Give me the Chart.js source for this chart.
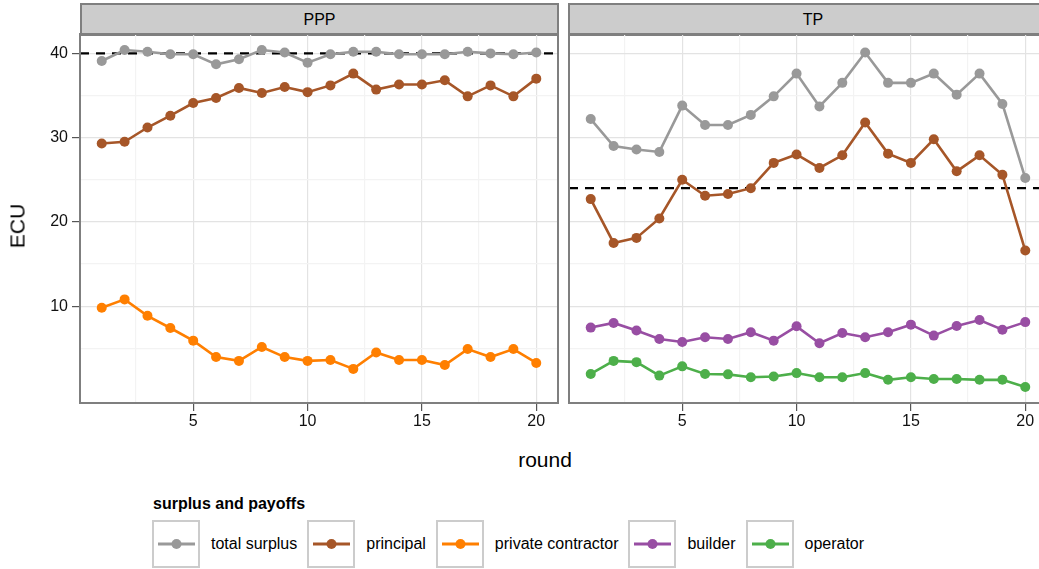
<!DOCTYPE html>
<html>
<head>
<meta charset="utf-8">
<script src="https://cdn.jsdelivr.net/npm/chart.js@4.4.1/dist/chart.umd.min.js"></script>
<style>
  body { margin: 0; width: 1039px; height: 569px; overflow: hidden; background: #fff;
         position: relative; font-family: "Liberation Sans", Arial, sans-serif; color: #000; }
  canvas { position: absolute; top: 0; }
  .strip { position: absolute; top: 3px; height: 33px; box-sizing: border-box;
           background: #cccccc; border: 2px solid #7f7f7f; font-size: 16px;
           display: flex; align-items: center; justify-content: center; }
  #ylab { position: absolute; left: 17px; top: 226px; font-size: 21px; line-height: 21px;
          transform: translate(-50%, -50%) rotate(-90deg); white-space: nowrap; }
  #xlab { position: absolute; left: 545px; top: 449px; font-size: 21px; line-height: 21px;
          transform: translateX(-50%); }
  #legtitle { position: absolute; left: 153px; top: 495px; font-size: 16px; font-weight: bold;
              line-height: 18px; }
  #legrow { position: absolute; left: 152px; top: 520px; display: flex; align-items: center;
            font-size: 16px; }
  .key { width: 48px; height: 48px; box-sizing: border-box; border: 2px solid #cccccc;
         background: #fff; }
  .key svg { display: block; }
  .lab { margin-left: 11px; margin-right: 10px; white-space: nowrap; }
</style>
</head>
<body>
<div class="strip" style="left:80px;width:479px">PPP</div>
<div class="strip" style="left:568px;width:490px">TP</div>
<canvas id="ppp" width="570" height="440" style="left:0;width:570px;height:440px"></canvas>
<canvas id="tp" width="500" height="440" style="left:560px;width:500px;height:440px"></canvas>
<div id="ylab">ECU</div>
<div id="xlab">round</div>
<div id="legtitle">surplus and payoffs</div>
<div id="legrow"></div>

<script>
// rounds 1..20
const rounds = [1, 2, 3, 4, 5, 6, 7, 8, 9, 10, 11, 12, 13, 14, 15, 16, 17, 18, 19, 20];

const seriesNames = ['total surplus', 'principal', 'private contractor', 'builder', 'operator'];
const seriesColors = ['#999999', '#A65628', '#FF7F00', '#984EA3', '#4DAF4A'];

// PPP panel
const pppTotal = [39.1, 40.4, 40.2, 39.9, 39.9, 38.7, 39.3, 40.4, 40.1, 38.9,
                  39.9, 40.2, 40.2, 39.9, 39.9, 39.9, 40.2, 40.0, 39.9, 40.1];
const pppPrincipal = [29.3, 29.5, 31.2, 32.6, 34.1, 34.7, 35.9, 35.3, 36.0, 35.4,
                      36.2, 37.6, 35.7, 36.3, 36.3, 36.8, 34.9, 36.2, 34.9, 37.0];
const pppContractor = [9.8, 10.8, 8.85, 7.4, 5.9, 3.95, 3.5, 5.15, 3.95, 3.5,
                       3.6, 2.55, 4.5, 3.6, 3.6, 3.0, 4.9, 3.95, 4.9, 3.25];

// TP panel
const tpTotal = [32.2, 29.0, 28.6, 28.3, 33.8, 31.5, 31.5, 32.7, 34.9, 37.6,
                 33.7, 36.5, 40.1, 36.5, 36.5, 37.6, 35.1, 37.6, 34.0, 25.2];
const tpPrincipal = [22.7, 17.5, 18.1, 20.4, 25.0, 23.1, 23.3, 24.0, 27.0, 28.0,
                     26.4, 27.9, 31.8, 28.1, 27.0, 29.8, 26.0, 27.9, 25.6, 16.6];
const tpBuilder = [7.45, 8.0, 7.1, 6.1, 5.75, 6.3, 6.1, 6.9, 5.9, 7.6,
                   5.6, 6.8, 6.3, 6.9, 7.8, 6.5, 7.65, 8.35, 7.2, 8.1];
const tpOperator = [1.95, 3.5, 3.35, 1.75, 2.85, 1.95, 1.9, 1.55, 1.65, 2.05,
                    1.55, 1.55, 2.05, 1.25, 1.55, 1.35, 1.35, 1.25, 1.25, 0.4];

// dashed reference lines
const pppRefLine = 40;
const tpRefLine = 24;

// ticks (minor + major)
const xTicks = [2.5, 5, 7.5, 10, 12.5, 15, 17.5, 20];
const yTicks = [5, 10, 15, 20, 25, 30, 35, 40];

const FONT = '"Liberation Sans", Arial, sans-serif';

// panel border + dashed hline
const panelDeco = {
  id: 'panelDeco',
  beforeDatasetsDraw(chart, args, opts) {
    const { ctx, chartArea } = chart;
    const y = chart.scales.y.getPixelForValue(opts.value);
    ctx.save();
    ctx.strokeStyle = '#000';
    ctx.lineWidth = 2.2;
    ctx.setLineDash([9, 7]);
    ctx.beginPath();
    ctx.moveTo(chartArea.left, y);
    ctx.lineTo(chartArea.right, y);
    ctx.stroke();
    ctx.restore();
  },
  afterDraw(chart) {
    const { ctx, chartArea } = chart;
    ctx.save();
    ctx.strokeStyle = '#7f7f7f';
    ctx.lineWidth = 2;
    ctx.strokeRect(chartArea.left, chartArea.top, chartArea.right - chartArea.left, chartArea.bottom - chartArea.top);
    ctx.restore();
  }
};

function makeDatasets(list) {
  return list.map(s => ({
    label: seriesNames[s.idx],
    data: rounds.map((r, i) => ({ x: r, y: s.values[i] })),
    borderColor: seriesColors[s.idx],
    backgroundColor: seriesColors[s.idx],
    pointBackgroundColor: seriesColors[s.idx],
    pointBorderWidth: 0,
    pointRadius: 5,
    borderWidth: 2.6,
    tension: 0,
    clip: false
  }));
}

const gridColor = ctx => {
  const v = ctx.tick ? ctx.tick.value : 0;
  return (v % (ctx.scale.axis === 'x' ? 5 : 10) === 0) ? '#e3e3e3' : '#f3f3f3';
};

function makeChart(id, series, refLine, showY, padding) {
  return new Chart(document.getElementById(id), {
    type: 'line',
    data: { datasets: makeDatasets(series) },
    options: {
      responsive: false,
      animation: false,
      events: [],
      layout: { padding: padding },
      plugins: {
        legend: { display: false },
        tooltip: { enabled: false },
        panelDeco: { value: refLine }
      },
      scales: {
        x: {
          type: 'linear',
          min: 0.05,
          max: 20.95,
          afterBuildTicks: scale => { scale.ticks = xTicks.map(v => ({ value: v })); },
          afterFit: scale => { scale.height = 37; },
          border: { display: false },
          grid: {
            color: gridColor,
            lineWidth: 1.2,
            tickLength: 8,
            tickWidth: 1.2,
            tickColor: ctx => (ctx.tick && ctx.tick.value % 5 === 0) ? '#555' : 'rgba(0,0,0,0)'
          },
          ticks: {
            autoSkip: false,
            maxRotation: 0,
            padding: 1,
            color: '#111',
            font: { family: FONT, size: 16 },
            callback: v => (v % 5 === 0 ? v : '')
          }
        },
        y: {
          type: 'linear',
          min: -1.5,
          max: 42.3,
          afterBuildTicks: scale => { scale.ticks = yTicks.map(v => ({ value: v })); },
          afterFit: scale => { scale.width = showY ? 80 : 0; },
          border: { display: false },
          grid: {
            color: gridColor,
            lineWidth: 1.2,
            drawTicks: showY,
            tickLength: 8,
            tickWidth: 1.2,
            tickColor: ctx => (ctx.tick && ctx.tick.value % 10 === 0) ? '#555' : 'rgba(0,0,0,0)'
          },
          ticks: {
            display: showY,
            autoSkip: false,
            padding: 4,
            color: '#111',
            font: { family: FONT, size: 16 },
            callback: v => (v % 10 === 0 ? v : '')
          }
        }
      }
    },
    plugins: [panelDeco]
  });
}

makeChart('ppp', [
  { idx: 0, values: pppTotal },
  { idx: 1, values: pppPrincipal },
  { idx: 2, values: pppContractor }
], pppRefLine, true, { top: 34, right: 12, bottom: 0, left: 0 });

makeChart('tp', [
  { idx: 0, values: tpTotal },
  { idx: 1, values: tpPrincipal },
  { idx: 3, values: tpBuilder },
  { idx: 4, values: tpOperator }
], tpRefLine, false, { top: 34, right: 13, bottom: 0, left: 9 });

// legend
const row = document.getElementById('legrow');
seriesNames.forEach((name, i) => {
  const key = document.createElement('span');
  key.className = 'key';
  key.innerHTML = '<svg width="44" height="44"><line x1="4" y1="22" x2="41" y2="22" stroke="' +
    seriesColors[i] + '" stroke-width="3.2"/><circle cx="22.5" cy="22" r="5" fill="' +
    seriesColors[i] + '"/></svg>';
  const lab = document.createElement('span');
  lab.className = 'lab';
  lab.textContent = name;
  row.appendChild(key);
  row.appendChild(lab);
});
</script>
</body>
</html>
